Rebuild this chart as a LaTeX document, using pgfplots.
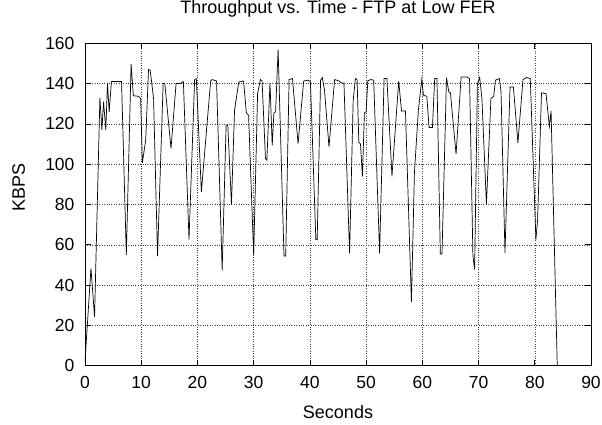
\documentclass[border=0pt]{standalone}
\usepackage{pgfplots}
\pgfplotsset{compat=1.18}
\usepackage{fontspec}
\setmainfont{Liberation Sans}
\begin{document}
\begin{tikzpicture}
\begin{axis}[
  at={(0,0)}, anchor=south west,
  scale only axis, width=506pt, height=322.4pt,
  xmin=0, xmax=90, ymin=0, ymax=160,
  xtick={0,10,...,90}, ytick={0,20,...,160},
  grid=major,
  major grid style={dotted, black!75, line width=0.5pt},
  tick align=inside,
  major tick length=6pt,
  tick style={black, line width=0.6pt},
  axis line style={black, line width=0.8pt},
  every tick label/.append style={font=\fontsize{17.5}{20}\selectfont},
  xticklabel style={yshift=-7.5pt},
  yticklabel style={xshift=-7pt},
  /pgf/number format/assume math mode=true,
  title={Throughput vs. Time - FTP at Low FER},
  title style={font=\fontsize{18}{21}\selectfont, at={(axis description cs:0.5,1)}, anchor=base, yshift=23.3pt},
  xlabel={Seconds}, ylabel={KBPS},
  xlabel style={font=\fontsize{18}{21}\selectfont, at={(axis description cs:0.5,0)}, anchor=base, yshift=-52.3pt},
  ylabel style={font=\fontsize{18}{21}\selectfont, at={(axis description cs:0,0.554)}, rotate=0, anchor=base, yshift=60pt},
]
\addplot[black, line width=0.7pt, mark=none] coordinates {
(0,2) (1.06,48.3) (1.7,24.3) (2.65,133) (3.0,117) (3.3,131) (3.7,117) (4.0,140) (4.3,126) (4.7,141) (6.5,141)
(7.35,55) (8.2,149.6) (8.6,134) (9.5,133.7) (9.9,132.5) (10.2,100.7) (10.8,112) (11.3,147) (11.6,146.6) (12.2,132.5)
(12.9,54.4) (13.9,140) (14.2,140) (15.3,107.8) (16.2,140) (16.9,140) (17.5,141) (18.5,62.6) (19.5,142) (19.8,142.5)
(20.7,86.3) (22.35,141.3) (22.6,142) (23.4,141.3) (24.4,47.4) (25.1,119.3) (25.4,119.3) (26.05,80.2) (26.6,126.8)
(27.35,140.8) (28.2,141.3) (28.7,125.5) (29.1,124.3) (30.0,54.9) (30.7,135) (31.2,142) (31.5,141.3) (32.1,102.8)
(32.35,102) (32.9,140.3) (33.3,109.4) (33.6,125.5) (33.9,126) (34.35,156.9) (35.4,54.4) (35.7,54.4) (36.3,142)
(36.9,142.5) (37.9,110.2) (38.9,141.3) (39.7,141.7) (40.1,140.8) (41.06,62.6) (41.3,62.6) (41.9,141.7) (42.2,143)
(42.6,136.7) (43.4,108.6) (44.4,142) (45.2,141.3) (45.6,140.3) (46.06,140.3) (47.06,55.7) (47.7,131.7) (48.1,142.5)
(48.4,142) (48.7,111) (49.0,110) (49.35,94) (49.7,125.5) (50.0,126) (50.3,141.3) (50.8,142) (51.35,141.7) (52.4,55.7)
(53.2,142.5) (53.7,142.5) (54.6,94) (55.8,141.3) (56.3,126.4) (57.0,126.4) (58.06,31.7) (58.6,96.2) (59.3,126.8)
(59.9,142) (60.2,134.2) (60.8,133.7) (61.2,118.2) (61.8,118.2) (62.2,142.5) (62.6,142.5) (63.2,55.4) (63.5,55.4)
(64.3,143) (64.7,135.9) (65.0,135.4) (66.0,105) (66.9,143.3) (67.9,143.3) (68.4,142.5) (69.0,54.4) (69.3,47.8)
(69.8,140) (70.2,143) (70.6,132.6) (71.4,80.2) (72.2,132.6) (72.7,133.7) (73.0,141.7) (73.7,142.5) (74.0,135.9)
(74.7,56) (75.6,138.3) (76.2,138.3) (77.0,110.6) (77.9,142) (78.5,143) (79.2,142.5) (80.2,62.6) (80.5,72.2)
(81.2,135.4) (82.0,135) (82.6,118.8) (82.9,126.4) (84.0,0)
};
\end{axis}
\pgfresetboundingbox
\path (-85pt,-59.3pt) rectangle (517pt,365.7pt);
\end{tikzpicture}
\end{document}
